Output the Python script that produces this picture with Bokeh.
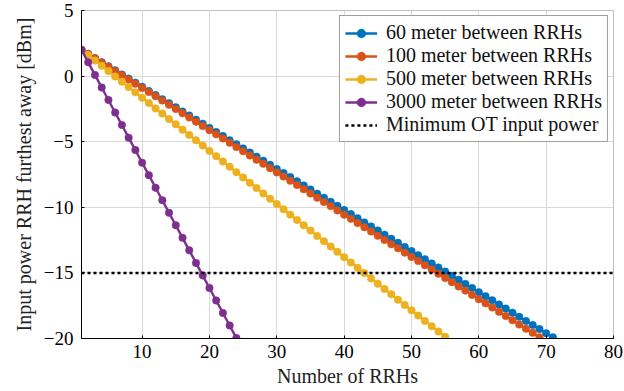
from bokeh.plotting import figure
from bokeh.models import Legend, LegendItem, FixedTicker, Range1d
from bokeh.embed import file_html
from bokeh.resources import INLINE

# Received optical power at the RRH furthest from the hub, per chain length
n_rrh_60 = list(range(1, 72))
power_60m = [
    2.00, 1.69, 1.37, 1.06, 0.75, 0.44, 0.12, -0.19, -0.50, -0.82,
    -1.13, -1.44, -1.76, -2.07, -2.38, -2.70, -3.01, -3.32, -3.63, -3.95,
    -4.26, -4.57, -4.89, -5.20, -5.51, -5.83, -6.14, -6.45, -6.76, -7.08,
    -7.39, -7.70, -8.02, -8.33, -8.64, -8.96, -9.27, -9.58, -9.89, -10.21,
    -10.52, -10.83, -11.15, -11.46, -11.77, -12.09, -12.40, -12.71, -13.02, -13.34,
    -13.65, -13.96, -14.28, -14.59, -14.90, -15.22, -15.53, -15.84, -16.15, -16.47,
    -16.78, -17.09, -17.41, -17.72, -18.03, -18.35, -18.66, -18.97, -19.28, -19.60,
    -19.91,
]

n_rrh_100 = list(range(1, 70))
power_100m = [
    2.00, 1.68, 1.36, 1.03, 0.71, 0.39, 0.07, -0.25, -0.58, -0.90,
    -1.22, -1.54, -1.86, -2.19, -2.51, -2.83, -3.15, -3.47, -3.80, -4.12,
    -4.44, -4.76, -5.08, -5.41, -5.73, -6.05, -6.37, -6.69, -7.02, -7.34,
    -7.66, -7.98, -8.30, -8.63, -8.95, -9.27, -9.59, -9.91, -10.24, -10.56,
    -10.88, -11.20, -11.52, -11.85, -12.17, -12.49, -12.81, -13.13, -13.46, -13.78,
    -14.10, -14.42, -14.74, -15.07, -15.39, -15.71, -16.03, -16.35, -16.68, -17.00,
    -17.32, -17.64, -17.96, -18.29, -18.61, -18.93, -19.25, -19.57, -19.90,
]

n_rrh_500 = list(range(1, 56))
power_500m = [
    2.00, 1.60, 1.19, 0.79, 0.38, -0.03, -0.43, -0.84, -1.24, -1.65,
    -2.05, -2.46, -2.86, -3.27, -3.67, -4.08, -4.48, -4.89, -5.29, -5.70,
    -6.10, -6.51, -6.91, -7.32, -7.72, -8.13, -8.53, -8.94, -9.34, -9.75,
    -10.15, -10.56, -10.96, -11.37, -11.77, -12.18, -12.58, -12.99, -13.39, -13.80,
    -14.20, -14.61, -15.01, -15.42, -15.82, -16.23, -16.63, -17.04, -17.44, -17.85,
    -18.25, -18.66, -19.06, -19.47, -19.87,
]

n_rrh_3000 = list(range(1, 25))
power_3000m = [
    2.00, 1.05, 0.09, -0.87, -1.82, -2.78, -3.73, -4.69, -5.64, -6.60,
    -7.55, -8.51, -9.46, -10.42, -11.37, -12.33, -13.28, -14.24, -15.19, -16.15,
    -17.10, -18.06, -19.01, -19.97,
]

min_ot_x = [1, 80]
min_ot_power = [-15, -15]

series_labels = [
    "60 meter between RRHs",
    "100 meter between RRHs",
    "500 meter between RRHs",
    "3000 meter between RRHs",
]
series_colors = ["#0072BD", "#D95319", "#EDB120", "#7E2F8E"]
min_ot_label = "Minimum OT input power"

x_ticks = [10, 20, 30, 40, 50, 60, 70, 80]
y_ticks = [-20, -15, -10, -5, 0, 5]
y_tick_labels = {-20: "\u221220", -15: "\u221215", -10: "\u221210", -5: "\u22125", 0: "0", 5: "5"}

FONT = "'Liberation Serif', 'DejaVu Serif', serif"

p = figure(
    width=624, height=391,
    output_backend="svg", toolbar_location=None,
    x_range=Range1d(1, 80), y_range=Range1d(-20, 5),
    min_border_left=81, min_border_right=11,
    min_border_top=10, min_border_bottom=53,
)
p.background_fill_color = "white"
p.border_fill_color = "white"
p.outline_line_color = "#bfbfbf"
p.outline_line_width = 1

for ax in (p.xaxis[0], p.yaxis[0]):
    ax.axis_line_color = "black"
    ax.axis_line_width = 1
    ax.major_tick_in = 3
    ax.major_tick_out = 0
    ax.minor_tick_in = 0
    ax.minor_tick_out = 0
    ax.major_tick_line_color = "black"
    ax.major_label_text_font = FONT
    ax.major_label_text_font_size = "19px"
    ax.major_label_text_color = "black"
    ax.axis_label_text_font = FONT
    ax.axis_label_text_font_size = "20px"
    ax.axis_label_text_font_style = "normal"
    ax.axis_label_text_color = "#222222"

p.xaxis.ticker = FixedTicker(ticks=x_ticks)
p.yaxis.ticker = FixedTicker(ticks=y_ticks)
p.yaxis.major_label_overrides = y_tick_labels
p.xaxis.axis_label = "Number of RRHs"
p.yaxis.axis_label = "Input power RRH furthest away [dBm]"
p.xaxis.major_label_standoff = 6
p.yaxis.major_label_standoff = 8
p.xaxis.axis_label_standoff = 4
p.yaxis.axis_label_standoff = 6

p.xgrid.grid_line_color = "#d9d9d9"
p.ygrid.grid_line_color = "#d9d9d9"
p.xgrid.grid_line_width = 1
p.ygrid.grid_line_width = 1

xs = [n_rrh_60, n_rrh_100, n_rrh_500, n_rrh_3000]
ys = [power_60m, power_100m, power_500m, power_3000m]

items = []
for x, y, color, label in zip(xs, ys, series_colors, series_labels):
    ln = p.line(x, y, line_color=color, line_width=2.4)
    sc = p.scatter(x, y, size=7.5, fill_color=color, line_color=color, line_width=0.5)
    items.append(LegendItem(label=label, renderers=[ln, sc]))

ot = p.line(min_ot_x, min_ot_power, line_color="black", line_width=2.5, line_dash="3 3")
items.append(LegendItem(label=min_ot_label, renderers=[ot]))

legend = Legend(
    items=items,
    location="top_right",
    margin=5,
    padding=5,
    spacing=0,
    glyph_width=32,
    glyph_height=22,
    label_height=22,
    label_standoff=9,
    label_text_font=FONT,
    label_text_font_size="20px",
    label_text_color="#111111",
    border_line_color="#404040",
    border_line_width=1,
    background_fill_color="white",
    background_fill_alpha=1.0,
)
p.add_layout(legend)

open("out.html", "w").write(file_html(p, INLINE))
